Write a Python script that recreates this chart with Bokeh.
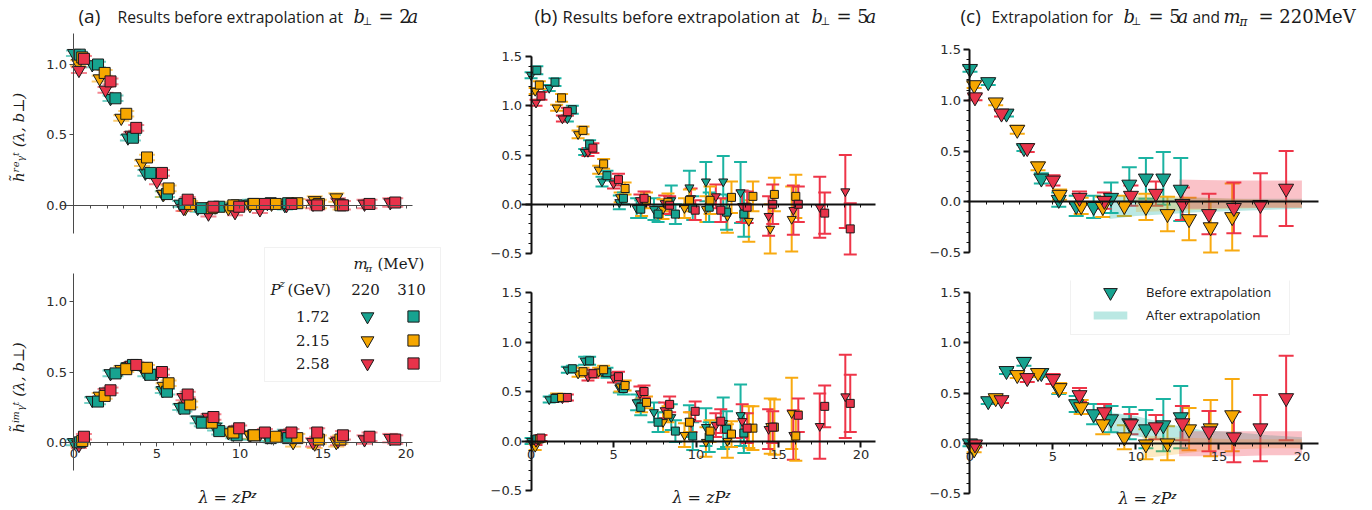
import math
from bokeh.plotting import figure
from bokeh.models import (ColumnDataSource, Whisker, TeeHead, Label, LinearAxis,
                          FixedTicker, Legend, LegendItem, BoxAnnotation, Range1d)
from bokeh.layouts import row, column
from bokeh.embed import file_html
from bokeh.resources import INLINE

# ---------------- data ----------------
# lambda = z P^z for each ensemble (T = m_pi 220 MeV, S = m_pi 310 MeV; 1,2,3 = Pz 1.72, 2.15, 2.58 GeV)
lam_t1 = [0.0, 1.1, 2.2, 3.25, 4.3, 5.35, 6.4, 7.45, 8.5, 9.6, 10.6, 11.65, 12.7]
lam_t2 = [0.25, 1.55, 2.85, 4.1, 5.4, 6.7, 8.0, 9.3, 10.6, 11.9, 13.2, 14.5, 15.8]
lam_t3 = [0.3, 1.9, 3.45, 5.0, 6.6, 8.1, 9.7, 11.2, 12.8, 14.4, 15.9, 17.5, 19.05]
lam_s1 = [0.35, 1.45, 2.5, 3.55, 4.6, 5.6, 6.65, 7.7, 8.75, 9.8, 10.8, 11.85, 12.9]
lam_s2 = [0.5, 1.85, 3.15, 4.4, 5.7, 7.0, 8.3, 9.6, 10.85, 12.15, 13.45, 14.75, 16.05]
lam_s3 = [0.6, 2.2, 3.75, 5.3, 6.85, 8.4, 9.95, 11.5, 13.1, 14.65, 16.2, 17.8, 19.35]

# panel (a): b_perp = 2a, real part
a_re_t1 = [1.08, 1.00, 0.76, 0.48, 0.23, 0.08, 0.01, -0.02, -0.01, -0.01, 0.01, 0.015, 0.0]
a_re_t2 = [1.01, 0.90, 0.62, 0.30, 0.08, -0.02, -0.03, -0.02, 0.0, 0.01, 0.02, 0.035, 0.055]
a_re_t3 = [0.96, 0.82, 0.50, 0.17, -0.02, -0.06, -0.05, -0.03, 0.0, 0.01, 0.02, 0.01, 0.02]
a_re_s1 = [1.07, 1.00, 0.76, 0.48, 0.23, 0.08, 0.01, -0.02, -0.01, 0.0, 0.01, 0.015, 0.015]
a_re_s2 = [1.05, 0.94, 0.65, 0.34, 0.12, 0.01, -0.02, 0.0, 0.01, 0.01, 0.015, 0.01, 0.0]
a_re_s3 = [1.04, 0.88, 0.55, 0.23, 0.04, -0.01, -0.01, 0.01, 0.01, 0.0, 0.0, 0.01, 0.02]
# panel (a): imaginary part
a_im_t1 = [0.0, 0.30, 0.49, 0.54, 0.49, 0.37, 0.25, 0.16, 0.11, 0.06, 0.05, 0.04, 0.06]
a_im_t2 = [-0.01, 0.33, 0.52, 0.54, 0.40, 0.26, 0.15, 0.07, 0.05, 0.04, 0.0, -0.01, 0.0]
a_im_t3 = [-0.02, 0.36, 0.55, 0.49, 0.32, 0.18, 0.09, 0.06, 0.06, 0.0, 0.01, 0.02, 0.03]
a_im_s1 = [0.0, 0.29, 0.49, 0.55, 0.48, 0.36, 0.24, 0.14, 0.08, 0.05, 0.05, 0.03, 0.03]
a_im_s2 = [0.01, 0.33, 0.52, 0.53, 0.42, 0.27, 0.14, 0.07, 0.05, 0.04, 0.03, 0.02, 0.02]
a_im_s3 = [0.04, 0.37, 0.55, 0.50, 0.34, 0.18, 0.10, 0.07, 0.07, 0.07, 0.05, 0.04, 0.02]
a_err = [0.02, 0.02, 0.02, 0.02, 0.02, 0.02, 0.02, 0.025, 0.025, 0.03, 0.03, 0.03, 0.03]

# panel (b) / (c): b_perp = 5a, real part
b_re_t1 = [1.31, 1.18, 0.87, 0.53, 0.23, 0.02, -0.04, -0.05, 0.04, 0.17, 0.23, 0.23, 0.12]
b_re_t1_err = [0.03, 0.03, 0.03, 0.03, 0.05, 0.07, 0.10, 0.11, 0.15, 0.17, 0.20, 0.26, 0.31]
b_re_t2 = [1.15, 0.98, 0.71, 0.35, 0.07, -0.04, -0.05, -0.04, -0.05, -0.12, -0.17, -0.25, -0.15]
b_re_t2_err = [0.03, 0.03, 0.04, 0.04, 0.05, 0.08, 0.10, 0.10, 0.13, 0.17, 0.21, 0.25, 0.33]
b_re_t3 = [1.03, 0.87, 0.53, 0.21, 0.04, 0.01, 0.06, 0.08, -0.02, -0.12, -0.06, -0.03, 0.13]
b_re_t3_err = [0.03, 0.03, 0.04, 0.05, 0.06, 0.08, 0.10, 0.12, 0.16, 0.20, 0.25, 0.31, 0.37]
b_re_s1 = [1.36, 1.24, 0.96, 0.61, 0.29, 0.06, -0.05, -0.10, -0.10, -0.04, -0.03, -0.08, -0.10]
b_re_s1_err = [0.04, 0.04, 0.04, 0.04, 0.05, 0.06, 0.09, 0.08, 0.10, 0.12, 0.15, 0.18, 0.23]
b_re_s2 = [1.21, 1.08, 0.75, 0.41, 0.16, 0.04, 0.02, 0.04, 0.04, 0.07, 0.08, 0.10, 0.08]
b_re_s2_err = [0.04, 0.04, 0.04, 0.05, 0.06, 0.08, 0.09, 0.11, 0.14, 0.16, 0.15, 0.17, 0.22]
b_re_s3 = [1.10, 0.94, 0.57, 0.25, 0.06, -0.01, -0.06, -0.06, -0.03, 0.0, 0.0, -0.09, -0.25]
b_re_s3_err = [0.04, 0.04, 0.05, 0.06, 0.07, 0.09, 0.10, 0.12, 0.16, 0.20, 0.18, 0.21, 0.26]
# imaginary part
b_im_t1 = [0.0, 0.42, 0.72, 0.81, 0.70, 0.54, 0.39, 0.29, 0.24, 0.20, 0.14, 0.18, 0.26]
b_im_t1_err = [0.03, 0.03, 0.03, 0.04, 0.04, 0.05, 0.08, 0.10, 0.13, 0.16, 0.19, 0.26, 0.31]
b_im_t2 = [-0.06, 0.45, 0.68, 0.70, 0.55, 0.36, 0.19, 0.06, -0.01, 0.0, 0.14, 0.15, 0.28]
b_im_t2_err = [0.03, 0.03, 0.03, 0.04, 0.05, 0.07, 0.10, 0.12, 0.15, 0.17, 0.21, 0.28, 0.36]
b_im_t3 = [-0.01, 0.43, 0.65, 0.64, 0.48, 0.31, 0.19, 0.16, 0.20, 0.12, 0.06, 0.15, 0.45]
b_im_t3_err = [0.03, 0.03, 0.04, 0.05, 0.07, 0.08, 0.10, 0.12, 0.17, 0.20, 0.25, 0.33, 0.42]
b_im_s1 = [0.02, 0.43, 0.73, 0.81, 0.69, 0.53, 0.34, 0.19, 0.10, 0.05, 0.04, 0.12, 0.08]
b_im_s1_err = [0.03, 0.03, 0.03, 0.04, 0.05, 0.06, 0.08, 0.10, 0.11, 0.14, 0.15, 0.18, 0.20]
b_im_s2 = [0.02, 0.44, 0.70, 0.72, 0.56, 0.39, 0.27, 0.19, 0.10, 0.07, 0.13, 0.14, 0.05]
b_im_s2_err = [0.03, 0.03, 0.04, 0.04, 0.05, 0.06, 0.08, 0.10, 0.11, 0.13, 0.22, 0.28, 0.25]
b_im_s3 = [0.03, 0.44, 0.68, 0.65, 0.50, 0.37, 0.30, 0.20, 0.13, 0.14, 0.26, 0.35, 0.38]
b_im_s3_err = [0.03, 0.03, 0.04, 0.05, 0.06, 0.08, 0.10, 0.12, 0.15, 0.16, 0.17, 0.21, 0.29]

# panel (c): extrapolated bands
c_re_band1_x = [8.4, 10, 12, 14, 16, 18, 20]
c_re_band1_lo = [-0.17, -0.14, -0.12, -0.10, -0.09, -0.08, -0.07]
c_re_band1_hi = [0.06, 0.05, 0.04, 0.04, 0.03, 0.03, 0.03]
c_re_band2_x = [10, 12, 14, 16, 18, 20]
c_re_band2_lo = [-0.10, -0.09, -0.08, -0.07, -0.06, -0.06]
c_re_band2_hi = [0.08, 0.06, 0.04, 0.03, 0.02, 0.02]
c_re_band3_x = [12.6, 14, 16, 18, 20]
c_re_band3_lo = [-0.07, -0.07, -0.06, -0.06, -0.06]
c_re_band3_hi = [0.22, 0.215, 0.21, 0.21, 0.21]
c_im_band1_x = [8.3, 10, 12, 14, 16, 18, 20]
c_im_band1_lo = [0.12, 0.07, 0.02, 0.0, 0.0, 0.0, 0.0]
c_im_band1_hi = [0.31, 0.27, 0.19, 0.13, 0.11, 0.08, 0.06]
c_im_band2_x = [10.4, 12, 14, 16, 18, 20]
c_im_band2_lo = [-0.15, -0.12, -0.08, -0.06, -0.05, -0.05]
c_im_band2_hi = [0.08, 0.06, 0.05, 0.04, 0.04, 0.04]
c_im_band3_x = [12.6, 14, 16, 18, 20]
c_im_band3_lo = [-0.13, -0.13, -0.13, -0.12, -0.12]
c_im_band3_hi = [0.12, 0.12, 0.12, 0.12, 0.12]

pz_labels = ["1.72", "2.15", "2.58"]
mpi_labels = ["220", "310"]
x_ticks = [0, 5, 10, 15, 20]
x_minor = list(range(0, 21))

# ---------------- styles ----------------
FILL = ["#17a390", "#f6a700", "#e8334a"]
ERRC = ["#1bb3a2", "#f8aa10", "#ee3548"]
SANS = "Open Sans"
TICKF = "DejaVu Sans"
SERIF = "DejaVu Serif"


def make_panel(x0, y0, bl, fw, br, bt, fh, bb, xr, yr):
    """Whole canvas is the frame; (xr, yr) map onto the inner box given by the borders."""
    ux = fw / (xr[1] - xr[0])
    uy = fh / (yr[1] - yr[0])
    full_x = (xr[0] - bl / ux, xr[1] + br / ux)
    full_y = (yr[0] - bb / uy, yr[1] + bt / uy)
    p = figure(frame_width=bl + fw + br, frame_height=bt + fh + bb,
               min_border_left=0, min_border_right=0, min_border_top=0, min_border_bottom=0,
               x_range=Range1d(*full_x), y_range=Range1d(*full_y),
               x_axis_type=None, y_axis_type=None,
               output_backend="svg", toolbar_location=None)
    p.outline_line_color = None
    p.background_fill_color = "white"
    p.border_fill_color = "white"
    geo = dict(fl=x0 + bl, ft=y0 + bt, fw=fw, fh=fh, xr=xr, yr=yr,
               cx0=x0, cy1=y0 + bt + fh + bb)
    return p, geo


def to_data(geo, px, py):
    x0, x1 = geo["xr"]
    y0, y1 = geo["yr"]
    x = x0 + (px - geo["fl"]) * (x1 - x0) / geo["fw"]
    y = y1 - (py - geo["ft"]) * (y1 - y0) / geo["fh"]
    return x, y


def text(p, geo, px, py, s, size, font=SANS, style="normal", color="#1a1a1a",
         align="left", angle=0.0):
    x, y = to_data(geo, px, py)
    p.add_layout(Label(x=x, y=y, text=s, text_font=font, text_font_size=f"{size}px",
                       text_font_style=style, text_color=color, text_align=align,
                       text_baseline="middle", angle=angle))


def key(p, geo, renderer, label, cx, cy, gw, gh, standoff=0, font_size="1px"):
    """Single legend entry whose glyph box is centred on page pixel (cx, cy)."""
    lg = Legend(items=[LegendItem(label=label, renderers=[renderer])],
                location=(cx - gw / 2 - geo["cx0"], geo["cy1"] - (cy + gh / 2)),
                glyph_width=gw, glyph_height=gh, label_height=gh, spacing=0, padding=0,
                margin=0, label_standoff=standoff, label_width=0,
                label_text_font=SANS, label_text_font_size=font_size,
                label_text_color="#1a1a1a", border_line_alpha=0, background_fill_alpha=0)
    p.add_layout(lg)


def add_axes(p, geo, thick, xlabels, xbounds, yticks, yminor, ylabels):
    col = "#111111" if thick else "#4a4a4a"
    lw = 2 if thick else 1
    xa = LinearAxis(fixed_location=0, bounds=xbounds,
                    ticker=FixedTicker(ticks=x_ticks if xlabels else [], minor_ticks=x_minor))
    ya = LinearAxis(fixed_location=0, bounds=geo["yr"],
                    ticker=FixedTicker(ticks=yticks, minor_ticks=yminor),
                    major_label_overrides=ylabels)
    for ax in (xa, ya):
        ax.axis_line_color = col
        ax.axis_line_width = lw
        ax.major_tick_line_color = col
        ax.major_tick_line_width = lw
        ax.minor_tick_line_color = col
        ax.minor_tick_line_width = 1
        ax.major_tick_in = 0
        ax.major_tick_out = 6 if thick else 4
        ax.minor_tick_in = 0
        ax.minor_tick_out = 3
        ax.major_label_text_font = TICKF
        ax.major_label_text_font_size = "13px"
        ax.major_label_text_color = "#2a2a2a"
        ax.major_label_standoff = 3
    p.add_layout(xa, "below")
    p.add_layout(ya, "left")


def series(p, lam, val, err, k, marker, size, cap, alpha, lw):
    src = ColumnDataSource(dict(x=lam, y=val,
                                lo=[v - e for v, e in zip(val, err)],
                                hi=[v + e for v, e in zip(val, err)]))
    head = dict(size=cap, line_color=ERRC[k], line_width=lw, line_alpha=alpha)
    p.add_layout(Whisker(source=src, base="x", upper="hi", lower="lo", dimension="height",
                         line_color=ERRC[k], line_width=lw, line_alpha=alpha,
                         upper_head=TeeHead(**head), lower_head=TeeHead(**head)))
    return p.scatter("x", "y", source=src, marker=marker, size=size, fill_color=FILL[k],
                     line_color="#1a1a1a", line_width=1)


yt_a = [0, 0.5, 1.0]
yl_a = {0: "0.0", 0.5: "0.5", 1: "1.0"}
yt_b = [-0.5, 0, 0.5, 1.0, 1.5]
ym_b = [-0.5, -0.4, -0.3, -0.2, -0.1, 0, 0.1, 0.2, 0.3, 0.4, 0.5, 0.6, 0.7, 0.8, 0.9,
        1.0, 1.1, 1.2, 1.3, 1.4, 1.5]
yl_b = {-0.5: "\u22120.5", 0: "0.0", 0.5: "0.5", 1: "1.0", 1.5: "1.5"}

# ---------------- panel (a) ----------------
pa1, ga1 = make_panel(0, 0, 63, 352, 45, 33, 200, 7, (-0.63, 20.57), (-0.2, 1.22))
pa2, ga2 = make_panel(0, 240, 63, 352, 45, 33, 197, 40, (-0.63, 20.57), (-0.2, 1.2))
add_axes(pa1, ga1, False, False, (-0.8, 20.4), yt_a, [], yl_a)
add_axes(pa2, ga2, False, True, (-0.8, 20.4), yt_a, [], yl_a)

lams_t = [lam_t1, lam_t2, lam_t3]
lams_s = [lam_s1, lam_s2, lam_s3]
a_re_t = [a_re_t1, a_re_t2, a_re_t3]
a_re_s = [a_re_s1, a_re_s2, a_re_s3]
a_im_t = [a_im_t1, a_im_t2, a_im_t3]
a_im_s = [a_im_s1, a_im_s2, a_im_s3]
rt_a, rs_a = [], []
for k in range(3):
    series(pa1, lams_t[k], a_re_t[k], a_err, k, "inverted_triangle", 13, 16, 0.6, 2)
    rt_a.append(series(pa2, lams_t[k], a_im_t[k], a_err, k, "inverted_triangle", 13, 16, 0.6, 2))
for k in range(3):
    series(pa1, lams_s[k], a_re_s[k], a_err, k, "square", 11, 16, 0.6, 2)
    rs_a.append(series(pa2, lams_s[k], a_im_s[k], a_err, k, "square", 11, 16, 0.6, 2))

# table legend of panel (a)
bx0, by0 = to_data(ga2, 264, 247)
bx1, by1 = to_data(ga2, 440, 381)
pa2.add_layout(BoxAnnotation(left=bx0, right=bx1, top=by0, bottom=by1, fill_color="white",
                             fill_alpha=1, line_color="#cfcfcf", line_width=1))
rows_y = (316, 340, 363)
for k in range(3):
    key(pa2, ga2, rt_a[k], " ", 367, rows_y[k], 32, 32)
    key(pa2, ga2, rs_a[k], " ", 413, rows_y[k], 28, 28)
    text(pa2, ga2, 329, rows_y[k], pz_labels[k], 15, SERIF, align="right")
text(pa2, ga2, 353, 263, "m", 15, SERIF, "italic")
text(pa2, ga2, 365, 268, "\u03c0", 10, SERIF, "italic")
text(pa2, ga2, 377, 263, "(MeV)", 15, SERIF)
text(pa2, ga2, 270, 289, "P", 15, SERIF, "italic")
text(pa2, ga2, 279, 283, "z", 10, SERIF, "italic")
text(pa2, ga2, 287, 289, "(GeV)", 15, SERIF)
text(pa2, ga2, 365, 289, mpi_labels[0], 15, SERIF, align="center")
text(pa2, ga2, 411, 289, mpi_labels[1], 15, SERIF, align="center")

# titles / axis labels of panel (a)
text(pa1, ga1, 78, 15, "(a)", 19)
text(pa1, ga1, 117, 16, "Results before extrapolation at", 15.7)
text(pa1, ga1, 353, 16, "b", 18, SERIF, "italic")
text(pa1, ga1, 362, 21, "\u22a5", 11, TICKF)
text(pa1, ga1, 378, 16, "= 2", 18, SERIF)
text(pa1, ga1, 407, 16, "a", 18, SERIF, "italic")
text(pa1, ga1, 18, 137, "h\u0303\u02b3\u1d49\u1d67\u1d57 (\u03bb, b\u22a5)", 15, SERIF, "italic",
     align="center", angle=math.pi / 2)
text(pa2, ga2, 18, 387, "h\u0303\u2071\u1d50\u1d67\u1d57 (\u03bb, b\u22a5)", 15, SERIF, "italic",
     align="center", angle=math.pi / 2)
text(pa2, ga2, 227, 497, "\u03bb = zP\u1dbb", 16, SERIF, "italic", align="center")

# ---------------- panel (b) ----------------
pb1, gb1 = make_panel(460, 0, 61, 354, 35, 56, 197, 27, (-0.58, 20.88), (-0.5, 1.5))
pb2, gb2 = make_panel(460, 280, 61, 354, 35, 12, 198, 20, (-0.58, 20.88), (-0.5, 1.5))
add_axes(pb1, gb1, True, False, (-0.58, 20.85), yt_b, ym_b, yl_b)
add_axes(pb2, gb2, True, True, (-0.58, 20.85), yt_b, ym_b, yl_b)
b_re_t = [b_re_t1, b_re_t2, b_re_t3]
b_re_t_err = [b_re_t1_err, b_re_t2_err, b_re_t3_err]
b_re_s = [b_re_s1, b_re_s2, b_re_s3]
b_re_s_err = [b_re_s1_err, b_re_s2_err, b_re_s3_err]
b_im_t = [b_im_t1, b_im_t2, b_im_t3]
b_im_t_err = [b_im_t1_err, b_im_t2_err, b_im_t3_err]
b_im_s = [b_im_s1, b_im_s2, b_im_s3]
b_im_s_err = [b_im_s1_err, b_im_s2_err, b_im_s3_err]
for k in range(3):
    series(pb1, lams_t[k], b_re_t[k], b_re_t_err[k], k, "inverted_triangle", 9, 13, 1, 2)
    series(pb2, lams_t[k], b_im_t[k], b_im_t_err[k], k, "inverted_triangle", 9, 13, 1, 2)
for k in range(3):
    series(pb1, lams_s[k], b_re_s[k], b_re_s_err[k], k, "square", 8, 13, 1, 2)
    series(pb2, lams_s[k], b_im_s[k], b_im_s_err[k], k, "square", 8, 13, 1, 2)
text(pb1, gb1, 534, 15, "(b)", 19)
text(pb1, gb1, 562, 16, "Results before extrapolation at", 16.5)
text(pb1, gb1, 811, 16, "b", 18, SERIF, "italic")
text(pb1, gb1, 820, 21, "\u22a5", 11, TICKF)
text(pb1, gb1, 836, 16, "= 5", 18, SERIF)
text(pb1, gb1, 865, 16, "a", 18, SERIF, "italic")
text(pb2, gb2, 701, 497, "\u03bb = zP\u1dbb", 16, SERIF, "italic", align="center")

# ---------------- panel (c) ----------------
pc1, gc1 = make_panel(910, 0, 55, 353, 54, 49, 203, 28, (-0.27, 21.0), (-0.5, 1.5))
pc2, gc2 = make_panel(910, 280, 55, 353, 54, 12, 201, 17, (-0.27, 21.0), (-0.5, 1.5))
add_axes(pc1, gc1, True, False, (-0.15, 21.0), yt_b, ym_b, yl_b)
add_axes(pc2, gc2, True, True, (-0.15, 21.0), yt_b, ym_b, yl_b)
bands_re = [(c_re_band1_x, c_re_band1_lo, c_re_band1_hi),
            (c_re_band2_x, c_re_band2_lo, c_re_band2_hi),
            (c_re_band3_x, c_re_band3_lo, c_re_band3_hi)]
bands_im = [(c_im_band1_x, c_im_band1_lo, c_im_band1_hi),
            (c_im_band2_x, c_im_band2_lo, c_im_band2_hi),
            (c_im_band3_x, c_im_band3_lo, c_im_band3_hi)]
band_alpha = [0.3, 0.25, 0.3]
band_r = []
for k in range(3):
    bx, blo, bhi = bands_re[k]
    pc1.varea(x=bx, y1=blo, y2=bhi, fill_color=ERRC[k], fill_alpha=band_alpha[k])
    bx, blo, bhi = bands_im[k]
    band_r.append(pc2.varea(x=bx, y1=blo, y2=bhi, fill_color=ERRC[k], fill_alpha=band_alpha[k]))
tri_c = []
for k in range(3):
    series(pc1, lams_t[k], b_re_t[k], b_re_t_err[k], k, "inverted_triangle", 15, 15, 1, 2)
    tri_c.append(series(pc2, lams_t[k], b_im_t[k], b_im_t_err[k], k, "inverted_triangle", 15, 15, 1, 2))
lx0, ly0 = to_data(gc2, 1070, 275)
lx1, ly1 = to_data(gc2, 1289, 334)
pc2.add_layout(BoxAnnotation(left=lx0, right=lx1, top=ly0, bottom=ly1, fill_color="white",
                             fill_alpha=1, line_color="#d0d0d0", line_width=1))
key(pc2, gc2, tri_c[0], "Before extrapolation", 1110, 292, 42, 34, 15, "13px")
key(pc2, gc2, band_r[0], "After extrapolation", 1110, 319, 42, 10, 15, "13px")
text(pc1, gc1, 960, 15, "(c)", 19)
text(pc1, gc1, 991, 16, "Extrapolation for", 15.5)
text(pc1, gc1, 1123, 16, "b", 18, SERIF, "italic")
text(pc1, gc1, 1131, 21, "\u22a5", 11, TICKF)
text(pc1, gc1, 1148, 16, "= 5", 18, SERIF)
text(pc1, gc1, 1177, 16, "a", 18, SERIF, "italic")
text(pc1, gc1, 1192, 16, "and", 15.5)
text(pc1, gc1, 1223, 16, "m", 18, SERIF, "italic")
text(pc1, gc1, 1239, 21, "\u03c0", 12, SERIF, "italic")
text(pc1, gc1, 1258, 16, "= 220MeV", 18, SERIF)
text(pc2, gc2, 1147, 498, "\u03bb = zP\u1dbb", 16, SERIF, "italic", align="center")

layout = row(column(pa1, pa2), column(pb1, pb2), column(pc1, pc2))
open("out.html", "w").write(file_html(layout, INLINE))
